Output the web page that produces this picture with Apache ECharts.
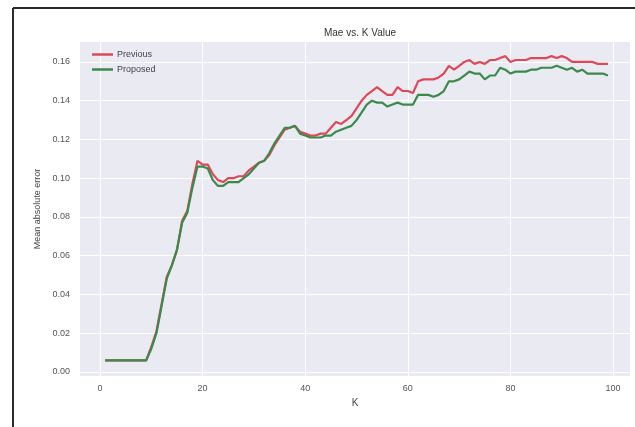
<!DOCTYPE html>
<html>
<head>
<meta charset="utf-8">
<script src="https://cdn.jsdelivr.net/npm/echarts@6/dist/echarts.min.js"></script>
<style>
  html, body { margin: 0; padding: 0; background: #ffffff; }
  #chart { width: 635px; height: 427px; }
</style>
</head>
<body>
<div id="chart"></div>
<script>
// K values 1..99
const kValues = [];
for (let k = 1; k <= 99; k++) kValues.push(k);

// Mean absolute error of the previous method, one value per K
const previousMae = [
  0.006, 0.006, 0.006, 0.006, 0.006, 0.006, 0.006, 0.006, 0.006, 0.013,
  0.021, 0.035, 0.049, 0.055, 0.063, 0.078, 0.083, 0.097, 0.109, 0.107,
  0.107, 0.102, 0.099, 0.098, 0.100, 0.100, 0.101, 0.101, 0.104, 0.106,
  0.108, 0.109, 0.112, 0.117, 0.121, 0.125, 0.126, 0.127, 0.124, 0.123,
  0.122, 0.122, 0.123, 0.123, 0.126, 0.129, 0.128, 0.130, 0.132, 0.136,
  0.140, 0.143, 0.145, 0.147, 0.145, 0.143, 0.143, 0.147, 0.145, 0.145,
  0.144, 0.150, 0.151, 0.151, 0.151, 0.152, 0.154, 0.158, 0.156, 0.158,
  0.160, 0.161, 0.159, 0.160, 0.159, 0.161, 0.161, 0.162, 0.163, 0.160,
  0.161, 0.161, 0.161, 0.162, 0.162, 0.162, 0.162, 0.163, 0.162, 0.163,
  0.162, 0.160, 0.160, 0.160, 0.160, 0.160, 0.159, 0.159, 0.159
];

// Mean absolute error of the proposed method, one value per K
const proposedMae = [
  0.006, 0.006, 0.006, 0.006, 0.006, 0.006, 0.006, 0.006, 0.006, 0.012,
  0.020, 0.034, 0.048, 0.055, 0.063, 0.077, 0.082, 0.095, 0.106, 0.106,
  0.105, 0.099, 0.096, 0.096, 0.098, 0.098, 0.098, 0.100, 0.102, 0.105,
  0.108, 0.109, 0.113, 0.118, 0.122, 0.126, 0.126, 0.127, 0.123, 0.122,
  0.121, 0.121, 0.121, 0.122, 0.122, 0.124, 0.125, 0.126, 0.127, 0.130,
  0.134, 0.138, 0.140, 0.139, 0.139, 0.137, 0.138, 0.139, 0.138, 0.138,
  0.138, 0.143, 0.143, 0.143, 0.142, 0.143, 0.145, 0.150, 0.150, 0.151,
  0.153, 0.155, 0.154, 0.154, 0.151, 0.153, 0.153, 0.157, 0.156, 0.154,
  0.155, 0.155, 0.155, 0.156, 0.156, 0.157, 0.157, 0.157, 0.158, 0.157,
  0.156, 0.157, 0.155, 0.156, 0.154, 0.154, 0.154, 0.154, 0.153
];

// Tick positions on each axis
const xTicks = [0, 20, 40, 60, 80, 100];
const yTicks = [0.00, 0.02, 0.04, 0.06, 0.08, 0.10, 0.12, 0.14, 0.16];

const previousColor = '#dc4a5a';
const proposedColor = '#3b8a4c';

const toPairs = (xs, ys) => xs.map((x, i) => [x, ys[i]]);

const chart = echarts.init(document.getElementById('chart'), null, { renderer: 'canvas' });

const fontFamily = 'Liberation Sans, Arial, sans-serif';
const labelFont = { color: '#555555', fontSize: 9, fontFamily };

chart.setOption({
  animation: false,
  backgroundColor: '#ffffff',
  title: {
    text: 'Mae vs. K Value',
    left: 355,
    textAlign: 'center',
    top: 23,
    textStyle: { color: '#333333', fontSize: 10, fontWeight: 'normal', fontFamily }
  },
  legend: {
    left: 87,
    top: 45,
    orient: 'vertical',
    itemGap: 6,
    itemWidth: 21,
    itemHeight: 2.5,
    icon: 'rect',
    textStyle: { color: '#444444', fontSize: 9, fontFamily, padding: [0, 0, 0, -1] },
    data: [
      { name: 'Previous', itemStyle: { color: previousColor } },
      { name: 'Proposed', itemStyle: { color: proposedColor } }
    ]
  },
  grid: {
    left: 80, right: 5, top: 42, bottom: 51,
    show: true, backgroundColor: '#eaeaf2', borderWidth: 0
  },
  xAxis: {
    type: 'value',
    min: -3.9,
    max: 103.3,
    name: 'K',
    nameLocation: 'middle',
    nameGap: 20,
    nameTextStyle: { color: '#444444', fontSize: 10, fontFamily },
    axisLine: { show: false },
    axisTick: { show: false, customValues: xTicks },
    axisLabel: Object.assign({ customValues: xTicks, margin: 8 }, labelFont),
    splitLine: { show: true, lineStyle: { color: '#ffffff', width: 1 } }
  },
  yAxis: {
    type: 'value',
    min: -0.0021,
    max: 0.1703,
    name: 'Mean absolute error',
    nameLocation: 'middle',
    nameGap: 28,
    nameTextStyle: { color: '#444444', fontSize: 9, fontFamily },
    axisLine: { show: false },
    axisTick: { show: false, customValues: yTicks },
    axisLabel: Object.assign({
      customValues: yTicks,
      margin: 10,
      formatter: v => v.toFixed(2)
    }, labelFont),
    splitLine: { show: true, lineStyle: { color: '#ffffff', width: 1 } }
  },
  graphic: [
    // dark frame along the top and left edges
    { type: 'line', shape: { x1: 13, y1: 8, x2: 635, y2: 8 }, style: { stroke: '#2a2a2a', lineWidth: 2 } },
    { type: 'line', shape: { x1: 13, y1: 8, x2: 13, y2: 427 }, style: { stroke: '#2a2a2a', lineWidth: 2 } }
  ],
  series: [
    {
      name: 'Previous',
      type: 'line',
      data: toPairs(kValues, previousMae),
      showSymbol: false,
      symbol: 'none',
      color: previousColor,
      lineStyle: { width: 2.2, color: previousColor }
    },
    {
      name: 'Proposed',
      type: 'line',
      data: toPairs(kValues, proposedMae),
      showSymbol: false,
      symbol: 'none',
      color: proposedColor,
      lineStyle: { width: 2.2, color: proposedColor }
    }
  ]
});
</script>
</body>
</html>
